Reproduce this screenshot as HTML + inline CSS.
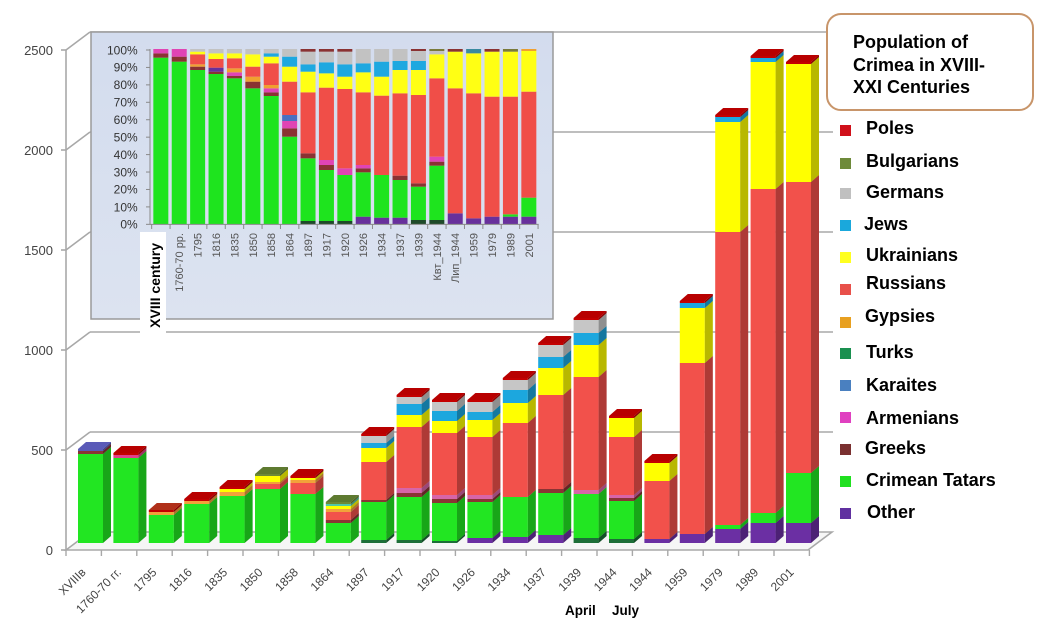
<!DOCTYPE html>
<html><head><meta charset="utf-8">
<style>
html,body{margin:0;padding:0;background:#fff;overflow:hidden}
svg{display:block}
text{font-family:"Liberation Sans","DejaVu Sans",sans-serif}
</style></head>
<body>
<svg width="1054" height="629" viewBox="0 0 1054 629" xmlns="http://www.w3.org/2000/svg">
<defs>
<linearGradient id="ibg" x1="0" y1="0" x2="0" y2="1">
<stop offset="0" stop-color="#d3dcee"/><stop offset="1" stop-color="#dce3f0"/>
</linearGradient>
<g id="m0"><rect y="454" width="25" height="89" fill="#22e622"/><rect y="451" width="25" height="3" fill="#8a3434"/><rect y="449" width="25" height="2" fill="#5a5ab8"/></g>
<g id="m1"><rect y="458" width="25" height="85" fill="#22e622"/><rect y="455" width="25" height="3" fill="#e0408c"/><rect y="453" width="25" height="2" fill="#c40000"/></g>
<g id="m2"><rect y="515" width="25" height="28" fill="#22e622"/><rect y="512" width="25" height="3" fill="#f2a23a"/><rect y="510" width="25" height="2" fill="#c40000"/></g>
<g id="m3"><rect y="504" width="25" height="39" fill="#22e622"/><rect y="501" width="25" height="3" fill="#f2a23a"/><rect y="499" width="25" height="2" fill="#c40000"/></g>
<g id="m4"><rect y="496" width="25" height="47" fill="#22e622"/><rect y="492" width="25" height="4" fill="#f2a23a"/><rect y="489" width="25" height="3" fill="#ffff00"/><rect y="487" width="25" height="2" fill="#c40000"/></g>
<g id="m5"><rect y="489" width="25" height="54" fill="#22e622"/><rect y="484" width="25" height="5" fill="#f2514b"/><rect y="482" width="25" height="2" fill="#f2a23a"/><rect y="476" width="25" height="6" fill="#ffff00"/><rect y="474" width="25" height="2" fill="#6d8a38"/></g>
<g id="m6"><rect y="494" width="25" height="49" fill="#22e622"/><rect y="483" width="25" height="11" fill="#f2514b"/><rect y="480" width="25" height="3" fill="#f2a23a"/><rect y="478" width="25" height="2" fill="#ffff00"/><rect y="476" width="25" height="2" fill="#c40000"/></g>
<g id="m7"><rect y="523" width="25" height="20" fill="#22e622"/><rect y="520" width="25" height="3" fill="#8a3434"/><rect y="512" width="25" height="8" fill="#f2514b"/><rect y="509" width="25" height="3" fill="#f2a23a"/><rect y="506" width="25" height="3" fill="#ffff00"/><rect y="504" width="25" height="2" fill="#50c8a8"/><rect y="502" width="25" height="2" fill="#6d8a38"/></g>
<g id="m8"><rect y="540" width="25" height="3" fill="#1d6e38"/><rect y="502" width="25" height="38" fill="#22e622"/><rect y="500" width="25" height="2" fill="#8a3434"/><rect y="462" width="25" height="38" fill="#f2514b"/><rect y="448" width="25" height="14" fill="#ffff00"/><rect y="443" width="25" height="5" fill="#1ca7de"/><rect y="436" width="25" height="7" fill="#c6c6c6"/><rect y="434" width="25" height="2" fill="#c40000"/></g>
<g id="m9"><rect y="540" width="25" height="3" fill="#1d6e38"/><rect y="497" width="25" height="43" fill="#22e622"/><rect y="493" width="25" height="4" fill="#8a3434"/><rect y="488" width="25" height="5" fill="#d765a8"/><rect y="427" width="25" height="61" fill="#f2514b"/><rect y="415" width="25" height="12" fill="#ffff00"/><rect y="404" width="25" height="11" fill="#1ca7de"/><rect y="397" width="25" height="7" fill="#c6c6c6"/><rect y="395" width="25" height="2" fill="#c40000"/></g>
<g id="m10"><rect y="541" width="25" height="2" fill="#1d6e38"/><rect y="503" width="25" height="38" fill="#22e622"/><rect y="499" width="25" height="4" fill="#8a3434"/><rect y="495" width="25" height="4" fill="#d765a8"/><rect y="433" width="25" height="62" fill="#f2514b"/><rect y="421" width="25" height="12" fill="#ffff00"/><rect y="411" width="25" height="10" fill="#1ca7de"/><rect y="402" width="25" height="9" fill="#c6c6c6"/><rect y="400" width="25" height="2" fill="#c40000"/></g>
<g id="m11"><rect y="538" width="25" height="5" fill="#6b2fa3"/><rect y="502" width="25" height="36" fill="#22e622"/><rect y="499" width="25" height="3" fill="#8a3434"/><rect y="495" width="25" height="4" fill="#d765a8"/><rect y="437" width="25" height="58" fill="#f2514b"/><rect y="420" width="25" height="17" fill="#ffff00"/><rect y="412" width="25" height="8" fill="#1ca7de"/><rect y="402" width="25" height="10" fill="#c6c6c6"/><rect y="400" width="25" height="2" fill="#c40000"/></g>
<g id="m12"><rect y="537" width="25" height="6" fill="#6b2fa3"/><rect y="497" width="25" height="40" fill="#22e622"/><rect y="423" width="25" height="74" fill="#f2514b"/><rect y="403" width="25" height="20" fill="#ffff00"/><rect y="390" width="25" height="13" fill="#1ca7de"/><rect y="380" width="25" height="10" fill="#c6c6c6"/><rect y="378" width="25" height="2" fill="#c40000"/></g>
<g id="m13"><rect y="535" width="25" height="8" fill="#6b2fa3"/><rect y="493" width="25" height="42" fill="#22e622"/><rect y="489" width="25" height="4" fill="#8a3434"/><rect y="395" width="25" height="94" fill="#f2514b"/><rect y="368" width="25" height="27" fill="#ffff00"/><rect y="357" width="25" height="11" fill="#1ca7de"/><rect y="345" width="25" height="12" fill="#c6c6c6"/><rect y="343" width="25" height="2" fill="#c40000"/></g>
<g id="m14"><rect y="538" width="25" height="5" fill="#1d6e38"/><rect y="494" width="25" height="44" fill="#22e622"/><rect y="490" width="25" height="4" fill="#d765a8"/><rect y="377" width="25" height="113" fill="#f2514b"/><rect y="345" width="25" height="32" fill="#ffff00"/><rect y="333" width="25" height="12" fill="#1ca7de"/><rect y="320" width="25" height="13" fill="#c6c6c6"/><rect y="318" width="25" height="2" fill="#c40000"/></g>
<g id="m15"><rect y="539" width="25" height="4" fill="#1d6e38"/><rect y="501" width="25" height="38" fill="#22e622"/><rect y="498" width="25" height="3" fill="#8a3434"/><rect y="495" width="25" height="3" fill="#d765a8"/><rect y="437" width="25" height="58" fill="#f2514b"/><rect y="418" width="25" height="19" fill="#ffff00"/><rect y="416" width="25" height="2" fill="#c40000"/></g>
<g id="m16"><rect y="539" width="25" height="4" fill="#6b2fa3"/><rect y="481" width="25" height="58" fill="#f2514b"/><rect y="463" width="25" height="18" fill="#ffff00"/><rect y="461" width="25" height="2" fill="#c40000"/></g>
<g id="m17"><rect y="534" width="25" height="9" fill="#6b2fa3"/><rect y="363" width="25" height="171" fill="#f2514b"/><rect y="308" width="25" height="55" fill="#ffff00"/><rect y="303" width="25" height="5" fill="#1ca7de"/><rect y="301" width="25" height="2" fill="#c40000"/></g>
<g id="m18"><rect y="529" width="25" height="14" fill="#6b2fa3"/><rect y="525" width="25" height="4" fill="#22e622"/><rect y="232" width="25" height="293" fill="#f2514b"/><rect y="122" width="25" height="110" fill="#ffff00"/><rect y="117" width="25" height="5" fill="#1ca7de"/><rect y="115" width="25" height="2" fill="#c40000"/></g>
<g id="m19"><rect y="523" width="25" height="20" fill="#6b2fa3"/><rect y="513" width="25" height="10" fill="#22e622"/><rect y="189" width="25" height="324" fill="#f2514b"/><rect y="62" width="25" height="127" fill="#ffff00"/><rect y="58" width="25" height="4" fill="#1ca7de"/><rect y="56" width="25" height="2" fill="#c40000"/></g>
<g id="m20"><rect y="523" width="25" height="20" fill="#6b2fa3"/><rect y="473" width="25" height="50" fill="#22e622"/><rect y="182" width="25" height="291" fill="#f2514b"/><rect y="64" width="25" height="118" fill="#ffff00"/><rect y="62" width="25" height="2" fill="#c40000"/></g>
</defs>

<!-- back wall gridlines -->
<g stroke="#a8a8a8" stroke-width="1.6" fill="none">
<line x1="90" y1="32" x2="833" y2="32"/>
<line x1="90" y1="132" x2="833" y2="132"/>
<line x1="90" y1="232" x2="833" y2="232"/>
<line x1="90" y1="332" x2="833" y2="332"/>
<line x1="90" y1="432" x2="833" y2="432"/>
<!-- left wall -->
<line x1="66" y1="50" x2="66" y2="550"/>
<line x1="66" y1="50" x2="90" y2="32"/>
<line x1="66" y1="150" x2="90" y2="132"/>
<line x1="66" y1="250" x2="90" y2="232"/>
<line x1="66" y1="350" x2="90" y2="332"/>
<line x1="66" y1="450" x2="90" y2="432"/>
<line x1="61" y1="50" x2="66" y2="50"/>
<line x1="61" y1="150" x2="66" y2="150"/>
<line x1="61" y1="250" x2="66" y2="250"/>
<line x1="61" y1="350" x2="66" y2="350"/>
<line x1="61" y1="450" x2="66" y2="450"/>
<line x1="61" y1="550" x2="66" y2="550"/>
</g>
<!-- floor -->
<polygon points="66,550 90,532 832,532 808,550" fill="#f6f6f6" stroke="#a8a8a8" stroke-width="1.6"/>
<g stroke="#a8a8a8" stroke-width="1.4">
<line x1="66" y1="550" x2="66" y2="556"/><line x1="101.4" y1="550" x2="101.4" y2="556"/><line x1="136.8" y1="550" x2="136.8" y2="556"/><line x1="172.2" y1="550" x2="172.2" y2="556"/><line x1="207.6" y1="550" x2="207.6" y2="556"/><line x1="243" y1="550" x2="243" y2="556"/><line x1="278.4" y1="550" x2="278.4" y2="556"/><line x1="313.8" y1="550" x2="313.8" y2="556"/><line x1="349.2" y1="550" x2="349.2" y2="556"/><line x1="384.6" y1="550" x2="384.6" y2="556"/><line x1="420" y1="550" x2="420" y2="556"/><line x1="455.4" y1="550" x2="455.4" y2="556"/><line x1="490.8" y1="550" x2="490.8" y2="556"/><line x1="526.2" y1="550" x2="526.2" y2="556"/><line x1="561.6" y1="550" x2="561.6" y2="556"/><line x1="597" y1="550" x2="597" y2="556"/><line x1="632.4" y1="550" x2="632.4" y2="556"/><line x1="667.8" y1="550" x2="667.8" y2="556"/><line x1="703.2" y1="550" x2="703.2" y2="556"/><line x1="738.6" y1="550" x2="738.6" y2="556"/><line x1="774" y1="550" x2="774" y2="556"/><line x1="809.4" y1="550" x2="809.4" y2="556"/>
</g>

<!-- main y labels -->
<g font-size="13" fill="#444" text-anchor="end">
<text x="53" y="55">2500</text>
<text x="53" y="155">2000</text>
<text x="53" y="255">1500</text>
<text x="53" y="355">1000</text>
<text x="53" y="455">500</text>
<text x="53" y="555">0</text>
</g>

<!-- main bars -->
<g>
<use href="#m0" x="78"/><use href="#m0" transform="translate(103,0) skewY(-41.186) scale(0.32,1)"/>
<polygon points="103,543 111,536 111,442 103,449" fill="#000" opacity=".28"/>
<polygon points="78,449 86,442 111,442 103,449" fill="#5a5ab8"/>

<use href="#m1" x="113.4"/><use href="#m1" transform="translate(138.4,0) skewY(-41.186) scale(0.32,1)"/>
<polygon points="138.4,543 146.4,536 146.4,446 138.4,453" fill="#000" opacity=".28"/>
<polygon points="113.4,453 121.4,446 146.4,446 138.4,453" fill="#b80000"/>

<use href="#m2" x="148.8"/><use href="#m2" transform="translate(173.8,0) skewY(-41.186) scale(0.32,1)"/>
<polygon points="173.8,543 181.8,536 181.8,503 173.8,510" fill="#000" opacity=".28"/>
<polygon points="148.8,510 156.8,503 181.8,503 173.8,510" fill="#b0301a"/>

<use href="#m3" x="184.2"/><use href="#m3" transform="translate(209.2,0) skewY(-41.186) scale(0.32,1)"/>
<polygon points="209.2,543 217.2,536 217.2,492 209.2,499" fill="#000" opacity=".28"/>
<polygon points="184.2,499 192.2,492 217.2,492 209.2,499" fill="#b80000"/>

<use href="#m4" x="219.6"/><use href="#m4" transform="translate(244.6,0) skewY(-41.186) scale(0.32,1)"/>
<polygon points="244.6,543 252.6,536 252.6,480 244.6,487" fill="#000" opacity=".28"/>
<polygon points="219.6,487 227.6,480 252.6,480 244.6,487" fill="#b80000"/>

<use href="#m5" x="255"/><use href="#m5" transform="translate(280,0) skewY(-41.186) scale(0.32,1)"/>
<polygon points="280,543 288,536 288,467 280,474" fill="#000" opacity=".28"/>
<polygon points="255,474 263,467 288,467 280,474" fill="#5e7a30"/>

<use href="#m6" x="290.4"/><use href="#m6" transform="translate(315.4,0) skewY(-41.186) scale(0.32,1)"/>
<polygon points="315.4,543 323.4,536 323.4,469 315.4,476" fill="#000" opacity=".28"/>
<polygon points="290.4,476 298.4,469 323.4,469 315.4,476" fill="#b80000"/>

<use href="#m7" x="325.8"/><use href="#m7" transform="translate(350.8,0) skewY(-41.186) scale(0.32,1)"/>
<polygon points="350.8,543 358.8,536 358.8,495 350.8,502" fill="#000" opacity=".28"/>
<polygon points="325.8,502 333.8,495 358.8,495 350.8,502" fill="#5e7a30"/>

<use href="#m8" x="361.2"/><use href="#m8" transform="translate(386.2,0) skewY(-41.186) scale(0.32,1)"/>
<polygon points="386.2,543 394.2,536 394.2,427 386.2,434" fill="#000" opacity=".28"/>
<polygon points="361.2,434 369.2,427 394.2,427 386.2,434" fill="#b80000"/>

<use href="#m9" x="396.6"/><use href="#m9" transform="translate(421.6,0) skewY(-41.186) scale(0.32,1)"/>
<polygon points="421.6,543 429.6,536 429.6,388 421.6,395" fill="#000" opacity=".28"/>
<polygon points="396.6,395 404.6,388 429.6,388 421.6,395" fill="#b80000"/>

<use href="#m10" x="432"/><use href="#m10" transform="translate(457,0) skewY(-41.186) scale(0.32,1)"/>
<polygon points="457,543 465,536 465,393 457,400" fill="#000" opacity=".28"/>
<polygon points="432,400 440,393 465,393 457,400" fill="#b80000"/>

<use href="#m11" x="467.4"/><use href="#m11" transform="translate(492.4,0) skewY(-41.186) scale(0.32,1)"/>
<polygon points="492.4,543 500.4,536 500.4,393 492.4,400" fill="#000" opacity=".28"/>
<polygon points="467.4,400 475.4,393 500.4,393 492.4,400" fill="#b80000"/>

<use href="#m12" x="502.8"/><use href="#m12" transform="translate(527.8,0) skewY(-41.186) scale(0.32,1)"/>
<polygon points="527.8,543 535.8,536 535.8,371 527.8,378" fill="#000" opacity=".28"/>
<polygon points="502.8,378 510.8,371 535.8,371 527.8,378" fill="#b80000"/>

<use href="#m13" x="538.2"/><use href="#m13" transform="translate(563.2,0) skewY(-41.186) scale(0.32,1)"/>
<polygon points="563.2,543 571.2,536 571.2,336 563.2,343" fill="#000" opacity=".28"/>
<polygon points="538.2,343 546.2,336 571.2,336 563.2,343" fill="#b80000"/>

<use href="#m14" x="573.6"/><use href="#m14" transform="translate(598.6,0) skewY(-41.186) scale(0.32,1)"/>
<polygon points="598.6,543 606.6,536 606.6,311 598.6,318" fill="#000" opacity=".28"/>
<polygon points="573.6,318 581.6,311 606.6,311 598.6,318" fill="#b80000"/>

<use href="#m15" x="609"/><use href="#m15" transform="translate(634,0) skewY(-41.186) scale(0.32,1)"/>
<polygon points="634,543 642,536 642,409 634,416" fill="#000" opacity=".28"/>
<polygon points="609,416 617,409 642,409 634,416" fill="#b80000"/>

<use href="#m16" x="644.4"/><use href="#m16" transform="translate(669.4,0) skewY(-41.186) scale(0.32,1)"/>
<polygon points="669.4,543 677.4,536 677.4,454 669.4,461" fill="#000" opacity=".28"/>
<polygon points="644.4,461 652.4,454 677.4,454 669.4,461" fill="#b80000"/>

<use href="#m17" x="679.8"/><use href="#m17" transform="translate(704.8,0) skewY(-41.186) scale(0.32,1)"/>
<polygon points="704.8,543 712.8,536 712.8,294 704.8,301" fill="#000" opacity=".28"/>
<polygon points="679.8,301 687.8,294 712.8,294 704.8,301" fill="#b80000"/>

<use href="#m18" x="715.2"/><use href="#m18" transform="translate(740.2,0) skewY(-41.186) scale(0.32,1)"/>
<polygon points="740.2,543 748.2,536 748.2,108 740.2,115" fill="#000" opacity=".28"/>
<polygon points="715.2,115 723.2,108 748.2,108 740.2,115" fill="#b80000"/>

<use href="#m19" x="750.6"/><use href="#m19" transform="translate(775.6,0) skewY(-41.186) scale(0.32,1)"/>
<polygon points="775.6,543 783.6,536 783.6,49 775.6,56" fill="#000" opacity=".28"/>
<polygon points="750.6,56 758.6,49 783.6,49 775.6,56" fill="#b80000"/>

<use href="#m20" x="786"/><use href="#m20" transform="translate(811,0) skewY(-41.186) scale(0.32,1)"/>
<polygon points="811,543 819,536 819,55 811,62" fill="#000" opacity=".28"/>
<polygon points="786,62 794,55 819,55 811,62" fill="#b80000"/>
</g>

<!-- main x labels -->
<g font-size="12" fill="#444" text-anchor="end">
<text x="86.5" y="573" transform="rotate(-45 86.5 573)">XVIIIв</text>
<text x="121.9" y="573" transform="rotate(-45 121.9 573)">1760-70 гг.</text>
<text x="157.3" y="573" transform="rotate(-45 157.3 573)">1795</text>
<text x="192.7" y="573" transform="rotate(-45 192.7 573)">1816</text>
<text x="228.1" y="573" transform="rotate(-45 228.1 573)">1835</text>
<text x="263.5" y="573" transform="rotate(-45 263.5 573)">1850</text>
<text x="298.9" y="573" transform="rotate(-45 298.9 573)">1858</text>
<text x="334.3" y="573" transform="rotate(-45 334.3 573)">1864</text>
<text x="369.7" y="573" transform="rotate(-45 369.7 573)">1897</text>
<text x="405.1" y="573" transform="rotate(-45 405.1 573)">1917</text>
<text x="440.5" y="573" transform="rotate(-45 440.5 573)">1920</text>
<text x="475.9" y="573" transform="rotate(-45 475.9 573)">1926</text>
<text x="511.3" y="573" transform="rotate(-45 511.3 573)">1934</text>
<text x="546.7" y="573" transform="rotate(-45 546.7 573)">1937</text>
<text x="582.1" y="573" transform="rotate(-45 582.1 573)">1939</text>
<text x="617.5" y="573" transform="rotate(-45 617.5 573)">1944</text>
<text x="652.9" y="573" transform="rotate(-45 652.9 573)">1944</text>
<text x="688.3" y="573" transform="rotate(-45 688.3 573)">1959</text>
<text x="723.7" y="573" transform="rotate(-45 723.7 573)">1979</text>
<text x="759.1" y="573" transform="rotate(-45 759.1 573)">1989</text>
<text x="794.5" y="573" transform="rotate(-45 794.5 573)">2001</text>
</g>
<g font-size="13.5" font-weight="bold" fill="#000">
<text x="565" y="615">April</text>
<text x="612" y="615">July</text>
</g>

<!-- inset -->
<rect x="91" y="32" width="462" height="287" fill="url(#ibg)" stroke="#9a9a9a" stroke-width="1.5"/>
<g transform="translate(90,35) scale(0.333333)">
<g transform="translate(190,0)"><rect y="68" width="45" height="500" fill="#1ee41e"/><rect y="55" width="45" height="13" fill="#8a3232"/><rect y="42" width="45" height="13" fill="#e044b4"/></g>
<g transform="translate(245.2,0)"><rect y="80" width="45" height="488" fill="#1ee41e"/><rect y="65" width="45" height="15" fill="#8a3232"/><rect y="42" width="45" height="23" fill="#e044b4"/></g>
<g transform="translate(300.4,0)"><rect y="105" width="45" height="463" fill="#1ee41e"/><rect y="95" width="45" height="10" fill="#8a3232"/><rect y="88" width="45" height="7" fill="#f0a030"/><rect y="58" width="45" height="30" fill="#f04e48"/><rect y="50" width="45" height="8" fill="#ffff14"/><rect y="42" width="45" height="8" fill="#c2c2c2"/></g>
<g transform="translate(355.6,0)"><rect y="117" width="45" height="451" fill="#1ee41e"/><rect y="110" width="45" height="7" fill="#8a3232"/><rect y="98" width="45" height="12" fill="#68309c"/><rect y="72" width="45" height="26" fill="#f04e48"/><rect y="55" width="45" height="17" fill="#ffff14"/><rect y="42" width="45" height="13" fill="#c2c2c2"/></g>
<g transform="translate(410.8,0)"><rect y="130" width="45" height="438" fill="#1ee41e"/><rect y="123" width="45" height="7" fill="#8a3232"/><rect y="112" width="45" height="11" fill="#e044b4"/><rect y="100" width="45" height="12" fill="#f0a030"/><rect y="70" width="45" height="30" fill="#f04e48"/><rect y="55" width="45" height="15" fill="#ffff14"/><rect y="42" width="45" height="13" fill="#c2c2c2"/></g>
<g transform="translate(466,0)"><rect y="160" width="45" height="408" fill="#1ee41e"/><rect y="140" width="45" height="20" fill="#8a3232"/><rect y="125" width="45" height="15" fill="#f0a030"/><rect y="95" width="45" height="30" fill="#f04e48"/><rect y="58" width="45" height="37" fill="#ffff14"/><rect y="42" width="45" height="16" fill="#c2c2c2"/></g>
<g transform="translate(521.2,0)"><rect y="183" width="45" height="385" fill="#1ee41e"/><rect y="172" width="45" height="11" fill="#8a3232"/><rect y="160" width="45" height="12" fill="#e044b4"/><rect y="150" width="45" height="10" fill="#f0a030"/><rect y="85" width="45" height="65" fill="#f04e48"/><rect y="65" width="45" height="20" fill="#ffff14"/><rect y="55" width="45" height="10" fill="#1ea8e0"/><rect y="42" width="45" height="13" fill="#c2c2c2"/></g>
<g transform="translate(576.4,0)"><rect y="305" width="45" height="263" fill="#1ee41e"/><rect y="280" width="45" height="25" fill="#8a3232"/><rect y="258" width="45" height="22" fill="#e044b4"/><rect y="240" width="45" height="18" fill="#4a70c0"/><rect y="140" width="45" height="100" fill="#f04e48"/><rect y="95" width="45" height="45" fill="#ffff14"/><rect y="65" width="45" height="30" fill="#1ea8e0"/><rect y="42" width="45" height="23" fill="#c2c2c2"/></g>
<g transform="translate(631.6,0)"><rect y="558" width="45" height="10" fill="#1e4a2a"/><rect y="370" width="45" height="188" fill="#1ee41e"/><rect y="355" width="45" height="15" fill="#8a3232"/><rect y="172" width="45" height="183" fill="#f04e48"/><rect y="110" width="45" height="62" fill="#ffff14"/><rect y="88" width="45" height="22" fill="#1ea8e0"/><rect y="50" width="45" height="38" fill="#c2c2c2"/><rect y="42" width="45" height="8" fill="#8a3232"/></g>
<g transform="translate(686.8,0)"><rect y="558" width="45" height="10" fill="#1e4a2a"/><rect y="405" width="45" height="153" fill="#1ee41e"/><rect y="390" width="45" height="15" fill="#8a3232"/><rect y="375" width="45" height="15" fill="#e044b4"/><rect y="158" width="45" height="217" fill="#f04e48"/><rect y="115" width="45" height="43" fill="#ffff14"/><rect y="82" width="45" height="33" fill="#1ea8e0"/><rect y="50" width="45" height="32" fill="#c2c2c2"/><rect y="42" width="45" height="8" fill="#8a3232"/></g>
<g transform="translate(742,0)"><rect y="558" width="45" height="10" fill="#1e4a2a"/><rect y="420" width="45" height="138" fill="#1ee41e"/><rect y="400" width="45" height="20" fill="#e044b4"/><rect y="162" width="45" height="238" fill="#f04e48"/><rect y="125" width="45" height="37" fill="#ffff14"/><rect y="88" width="45" height="37" fill="#1ea8e0"/><rect y="50" width="45" height="38" fill="#c2c2c2"/><rect y="42" width="45" height="8" fill="#8a3232"/></g>
<g transform="translate(797.2,0)"><rect y="545" width="45" height="23" fill="#68309c"/><rect y="412" width="45" height="133" fill="#1ee41e"/><rect y="400" width="45" height="12" fill="#8a3232"/><rect y="390" width="45" height="10" fill="#e044b4"/><rect y="172" width="45" height="218" fill="#f04e48"/><rect y="112" width="45" height="60" fill="#ffff14"/><rect y="85" width="45" height="27" fill="#1ea8e0"/><rect y="42" width="45" height="43" fill="#c2c2c2"/></g>
<g transform="translate(852.4,0)"><rect y="548" width="45" height="20" fill="#68309c"/><rect y="420" width="45" height="128" fill="#1ee41e"/><rect y="182" width="45" height="238" fill="#f04e48"/><rect y="125" width="45" height="57" fill="#ffff14"/><rect y="80" width="45" height="45" fill="#1ea8e0"/><rect y="42" width="45" height="38" fill="#c2c2c2"/></g>
<g transform="translate(907.6,0)"><rect y="548" width="45" height="20" fill="#68309c"/><rect y="435" width="45" height="113" fill="#1ee41e"/><rect y="422" width="45" height="13" fill="#8a3232"/><rect y="175" width="45" height="247" fill="#f04e48"/><rect y="105" width="45" height="70" fill="#ffff14"/><rect y="78" width="45" height="27" fill="#1ea8e0"/><rect y="42" width="45" height="36" fill="#c2c2c2"/></g>
<g transform="translate(962.8,0)"><rect y="555" width="45" height="13" fill="#1e4a2a"/><rect y="455" width="45" height="100" fill="#1ee41e"/><rect y="445" width="45" height="10" fill="#8a3232"/><rect y="180" width="45" height="265" fill="#f04e48"/><rect y="105" width="45" height="75" fill="#ffff14"/><rect y="78" width="45" height="27" fill="#1ea8e0"/><rect y="48" width="45" height="30" fill="#c2c2c2"/><rect y="42" width="45" height="6" fill="#8a3232"/></g>
<g transform="translate(1018,0)"><rect y="555" width="45" height="13" fill="#1e4a2a"/><rect y="392" width="45" height="163" fill="#1ee41e"/><rect y="380" width="45" height="12" fill="#8a3232"/><rect y="365" width="45" height="15" fill="#e044b4"/><rect y="130" width="45" height="235" fill="#f04e48"/><rect y="58" width="45" height="72" fill="#ffff14"/><rect y="48" width="45" height="10" fill="#c2c2c2"/><rect y="42" width="45" height="6" fill="#7a7a3a"/></g>
<g transform="translate(1073.2,0)"><rect y="535" width="45" height="33" fill="#68309c"/><rect y="160" width="45" height="375" fill="#f04e48"/><rect y="50" width="45" height="110" fill="#ffff14"/><rect y="42" width="45" height="8" fill="#8a3232"/></g>
<g transform="translate(1128.4,0)"><rect y="550" width="45" height="18" fill="#68309c"/><rect y="175" width="45" height="375" fill="#f04e48"/><rect y="55" width="45" height="120" fill="#ffff14"/><rect y="42" width="45" height="13" fill="#3a8aa0"/></g>
<g transform="translate(1183.6,0)"><rect y="545" width="45" height="23" fill="#68309c"/><rect y="185" width="45" height="360" fill="#f04e48"/><rect y="50" width="45" height="135" fill="#ffff14"/><rect y="42" width="45" height="8" fill="#8a3232"/></g>
<g transform="translate(1238.8,0)"><rect y="545" width="45" height="23" fill="#68309c"/><rect y="538" width="45" height="7" fill="#1ee41e"/><rect y="185" width="45" height="353" fill="#f04e48"/><rect y="50" width="45" height="135" fill="#ffff14"/><rect y="42" width="45" height="8" fill="#7a7a3a"/></g>
<g transform="translate(1294,0)"><rect y="545" width="45" height="23" fill="#68309c"/><rect y="488" width="45" height="57" fill="#1ee41e"/><rect y="170" width="45" height="318" fill="#f04e48"/><rect y="48" width="45" height="122" fill="#ffff14"/><rect y="42" width="45" height="6" fill="#f0a030"/></g>
<!-- inset axes -->
<g stroke="#8a8a8a" stroke-width="3">
<line x1="180" y1="42" x2="180" y2="568"/>
<line x1="180" y1="568" x2="1346" y2="568"/>
<line x1="168" y1="45" x2="180" y2="45"/><line x1="168" y1="97.3" x2="180" y2="97.3"/><line x1="168" y1="149.6" x2="180" y2="149.6"/><line x1="168" y1="201.9" x2="180" y2="201.9"/><line x1="168" y1="254.2" x2="180" y2="254.2"/><line x1="168" y1="306.5" x2="180" y2="306.5"/><line x1="168" y1="358.8" x2="180" y2="358.8"/><line x1="168" y1="411.1" x2="180" y2="411.1"/><line x1="168" y1="463.4" x2="180" y2="463.4"/><line x1="168" y1="515.7" x2="180" y2="515.7"/><line x1="168" y1="568" x2="180" y2="568"/>
<line x1="185" y1="568" x2="185" y2="582"/><line x1="240.2" y1="568" x2="240.2" y2="582"/><line x1="295.4" y1="568" x2="295.4" y2="582"/><line x1="350.6" y1="568" x2="350.6" y2="582"/><line x1="405.8" y1="568" x2="405.8" y2="582"/><line x1="461" y1="568" x2="461" y2="582"/><line x1="516.2" y1="568" x2="516.2" y2="582"/><line x1="571.4" y1="568" x2="571.4" y2="582"/><line x1="626.6" y1="568" x2="626.6" y2="582"/><line x1="681.8" y1="568" x2="681.8" y2="582"/><line x1="737" y1="568" x2="737" y2="582"/><line x1="792.2" y1="568" x2="792.2" y2="582"/><line x1="847.4" y1="568" x2="847.4" y2="582"/><line x1="902.6" y1="568" x2="902.6" y2="582"/><line x1="957.8" y1="568" x2="957.8" y2="582"/><line x1="1013" y1="568" x2="1013" y2="582"/><line x1="1068.2" y1="568" x2="1068.2" y2="582"/><line x1="1123.4" y1="568" x2="1123.4" y2="582"/><line x1="1178.6" y1="568" x2="1178.6" y2="582"/><line x1="1233.8" y1="568" x2="1233.8" y2="582"/><line x1="1289" y1="568" x2="1289" y2="582"/><line x1="1344.2" y1="568" x2="1344.2" y2="582"/>
</g>
<g font-size="36" fill="#333" text-anchor="end">
<text x="143" y="58">100%</text>
<text x="143" y="110">90%</text>
<text x="143" y="162">80%</text>
<text x="143" y="215">70%</text>
<text x="143" y="267">60%</text>
<text x="143" y="319">50%</text>
<text x="143" y="372">40%</text>
<text x="143" y="424">30%</text>
<text x="143" y="476">20%</text>
<text x="143" y="529">10%</text>
<text x="143" y="581">0%</text>
</g>
</g>
<!-- inset x labels -->
<g font-size="11" fill="#555" text-anchor="end">
<text x="183.2" y="233" transform="rotate(-90 183.2 233)">1760-70 рр.</text>
<text x="201.6" y="233" transform="rotate(-90 201.6 233)">1795</text>
<text x="220" y="233" transform="rotate(-90 220 233)">1816</text>
<text x="238.4" y="233" transform="rotate(-90 238.4 233)">1835</text>
<text x="256.8" y="233" transform="rotate(-90 256.8 233)">1850</text>
<text x="275.2" y="233" transform="rotate(-90 275.2 233)">1858</text>
<text x="293.6" y="233" transform="rotate(-90 293.6 233)">1864</text>
<text x="312" y="233" transform="rotate(-90 312 233)">1897</text>
<text x="330.4" y="233" transform="rotate(-90 330.4 233)">1917</text>
<text x="348.8" y="233" transform="rotate(-90 348.8 233)">1920</text>
<text x="367.2" y="233" transform="rotate(-90 367.2 233)">1926</text>
<text x="385.6" y="233" transform="rotate(-90 385.6 233)">1934</text>
<text x="404" y="233" transform="rotate(-90 404 233)">1937</text>
<text x="422.4" y="233" transform="rotate(-90 422.4 233)">1939</text>
<text x="440.8" y="233" transform="rotate(-90 440.8 233)">Квт_1944</text>
<text x="459.2" y="233" transform="rotate(-90 459.2 233)">Лип_1944</text>
<text x="477.6" y="233" transform="rotate(-90 477.6 233)">1959</text>
<text x="496" y="233" transform="rotate(-90 496 233)">1979</text>
<text x="514.4" y="233" transform="rotate(-90 514.4 233)">1989</text>
<text x="532.8" y="233" transform="rotate(-90 532.8 233)">2001</text>
</g>
<rect x="140" y="232" width="26" height="102" fill="#fff"/>
<text x="160" y="243" transform="rotate(-90 160 243)" text-anchor="end" font-size="14" font-weight="bold" fill="#000">XVIII century</text>

<!-- title box -->
<rect x="827" y="14" width="206" height="96" rx="14" ry="14" fill="#fff" stroke="#c8956a" stroke-width="2"/>
<g font-size="18" font-weight="bold" fill="#000">
<text x="853" y="48">Population of</text>
<text x="853" y="71">Crimea in XVIII-</text>
<text x="853" y="93">XXI Centuries</text>
</g>

<!-- legend -->
<g>
<rect x="840" y="125" width="11" height="11" fill="#d0101a"/>
<rect x="840" y="158" width="11" height="11" fill="#6e8a3a"/>
<rect x="840" y="188" width="11" height="11" fill="#c0c0c0"/>
<rect x="840" y="220" width="11" height="11" fill="#1aa8dc"/>
<rect x="840" y="252" width="11" height="11" fill="#ffff20"/>
<rect x="840" y="284" width="11" height="11" fill="#e8504a"/>
<rect x="840" y="317" width="11" height="11" fill="#e8a020"/>
<rect x="840" y="348" width="11" height="11" fill="#1a9050"/>
<rect x="840" y="380" width="11" height="11" fill="#4a80c0"/>
<rect x="840" y="412" width="11" height="11" fill="#e040c0"/>
<rect x="840" y="444" width="11" height="11" fill="#7a3030"/>
<rect x="840" y="476" width="11" height="11" fill="#20e020"/>
<rect x="840" y="508" width="11" height="11" fill="#6030a0"/>
</g>
<g font-size="18" font-weight="bold" fill="#000">
<text x="866" y="134">Poles</text>
<text x="866" y="167">Bulgarians</text>
<text x="866" y="198">Germans</text>
<text x="864" y="230">Jews</text>
<text x="866" y="261">Ukrainians</text>
<text x="866" y="289">Russians</text>
<text x="865" y="322">Gypsies</text>
<text x="866" y="358">Turks</text>
<text x="866" y="391">Karaites</text>
<text x="866" y="424">Armenians</text>
<text x="865" y="454">Greeks</text>
<text x="866" y="486">Crimean Tatars</text>
<text x="867" y="518">Other</text>
</g>
</svg>
</body></html>
